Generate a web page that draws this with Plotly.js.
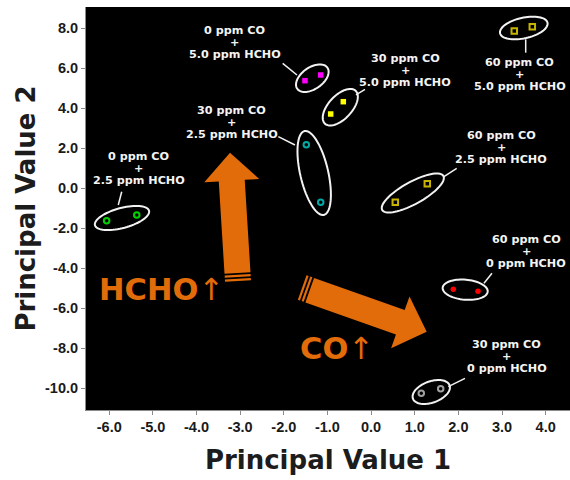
<!DOCTYPE html>
<html><head><meta charset="utf-8">
<script src="https://cdn.plot.ly/plotly-3.0.1.min.js"></script>
<style>html,body{margin:0;padding:0;background:#fff}#chart{width:570px;height:480px}</style>
</head><body><div id="chart"></div>
<script>
// ---------- data ----------
const groups = ["0 ppm CO + 2.5 ppm HCHO","0 ppm CO + 5.0 ppm HCHO","30 ppm CO + 5.0 ppm HCHO","30 ppm CO + 2.5 ppm HCHO","60 ppm CO + 2.5 ppm HCHO","60 ppm CO + 5.0 ppm HCHO","60 ppm CO + 0 ppm HCHO","30 ppm CO + 0 ppm HCHO"];
const labelLines = [["0 ppm CO","+","2.5 ppm HCHO"],["0 ppm CO","+","5.0 ppm HCHO"],["30 ppm CO","+","5.0 ppm HCHO"],["30 ppm CO","+","2.5 ppm HCHO"],["60 ppm CO","+","2.5 ppm HCHO"],["60 ppm CO","+","5.0 ppm HCHO"],["60 ppm CO","+","0 ppm HCHO"],["30 ppm CO","+","0 ppm HCHO"]];
const pc1 = [[-6.06,-5.37],[-1.515,-1.155],[-0.637,-0.926],[-1.485,-1.155],[1.288,0.555],[3.281,3.694],[1.884,2.45],[1.15,1.595]];
const pc2 = [[-1.62,-1.335],[5.38,5.665],[4.33,3.715],[2.18,-0.70],[0.23,-0.70],[7.865,8.08],[-5.05,-5.15],[-10.25,-10.02]];
const xTickVals = [-6,-5,-4,-3,-2,-1,0,1,2,3,4];
const xTickText = ["-6.0","-5.0","-4.0","-3.0","-2.0","-1.0","0.0","1.0","2.0","3.0","4.0"];
const yTickVals = [-10,-8,-6,-4,-2,0,2,4,6,8];
const yTickText = ["-10.0","-8.0","-6.0","-4.0","-2.0","0.0","2.0","4.0","6.0","8.0"];

// ---------- styling / layout geometry ----------
const markerSymbols = ["circle-open","square","square","circle-open","square-open","square-open","circle","circle-open"];
const markerColors = ["#00d000","#ff00ff","#ffff00","#00a8a8","#c8b400","#c8b400","#ff0000","#a0a0a0"];
const labelPos = [[-5.33,1.01],[-3.13,7.30],[0.78,5.88],[-3.19,3.31],[2.98,2.06],[3.41,5.71],[3.55,-3.17],[3.11,-8.43]];
const ellipses = [[-5.708,-1.485,28,10,-15],[-1.347,5.505,18.4,10.8,-35],[-0.706,4.055,22.5,11.7,-47],[-1.304,0.765,43,14,77],[0.956,-0.235,35,11,-29],[3.499,8.015,24.3,10.3,-12.5],[2.156,-5.07,22.6,10,5],[1.379,-10.185,19.5,10.6,-20]];
const leaders = [[-5.793,-0.835,-5.715,-0.17],[-2.026,6.25,-1.698,5.665],[-0.14,4.95,-0.346,4.67],[-2.126,2.58,-1.744,2.165],[1.962,1.0,1.67,0.58],[3.543,7.45,3.543,6.78],[2.77,-4.25,2.587,-4.75],[2.152,-9.5,1.769,-9.92]];
const bigArrows = [{tail:[-3.05,-4.635],tip:[-3.233,1.78]},{tail:[-1.579,-4.96],tip:[1.274,-7.17]}];

const W=570,H=480,ML=86,MR=0,MT=7,MB=70;
const XR=[-6.533,4.558], YR=[-11.085,9.065];
const SX=(W-ML-MR)/(XR[1]-XR[0]), SY=(H-MT-MB)/(YR[1]-YR[0]);
const ORANGE="#E36C0A";

const traces = groups.map((g,i)=>({
  type:"scatter", mode:"markers", name:g, x:pc1[i], y:pc2[i],
  marker:{symbol:markerSymbols[i], color:markerColors[i], size:5.5,
    line:{color:markerColors[i], width: markerSymbols[i].includes("open")?2:0}},
  showlegend:false, hoverinfo:"x+y+name"
}));

const shapes=[];
ellipses.forEach(e=>{
  const [cx,cy,a,b,ang]=e, phi=ang*Math.PI/180; let d="";
  for(let k=0;k<=72;k++){
    const th=2*Math.PI*k/72;
    const dx=a*Math.cos(th)*Math.cos(phi)-b*Math.sin(th)*Math.sin(phi);
    const dy=a*Math.cos(th)*Math.sin(phi)+b*Math.sin(th)*Math.cos(phi);
    d+=(k?"L":"M")+(cx+dx/SX).toFixed(4)+","+(cy-dy/SY).toFixed(4);
  }
  shapes.push({type:"path",xref:"x",yref:"y",path:d+"Z",line:{color:"#f2f2f2",width:2}});
});
leaders.forEach(l=>shapes.push({type:"line",xref:"x",yref:"y",x0:l[0],y0:l[1],x1:l[2],y1:l[3],line:{color:"#f2f2f2",width:1.5}}));
function poly(pts){return pts.map((q,k)=>(k?"L":"M")+(q[0]/SX).toFixed(4)+","+(-q[1]/SY).toFixed(4)).join("")+"Z";}
bigArrows.forEach(A=>{
  const t=[A.tail[0]*SX,-A.tail[1]*SY], p=[A.tip[0]*SX,-A.tip[1]*SY];
  const dx=p[0]-t[0], dy=p[1]-t[1], L=Math.hypot(dx,dy);
  const u=[dx/L,dy/L], n=[-u[1],u[0]];
  const pt=(s,w)=>[t[0]+u[0]*s+n[0]*w, t[1]+u[1]*s+n[1]*w];
  const hw=13, HW=27.5, HL=28;
  const parts=[
    [pt(8,-hw),pt(L-HL,-hw),pt(L-HL,-HW),pt(L,0),pt(L-HL,HW),pt(L-HL,hw),pt(8,hw)],
    [pt(0,-hw),pt(2.2,-hw),pt(2.2,hw),pt(0,hw)],
    [pt(4,-hw),pt(6.2,-hw),pt(6.2,hw),pt(4,hw)]
  ];
  parts.forEach(P=>shapes.push({type:"path",xref:"x",yref:"y",path:poly(P),fillcolor:ORANGE,line:{width:0}}));
});

const annotations=[];
labelLines.forEach((ls,i)=>{
  ls.forEach((s,j)=>annotations.push({x:labelPos[i][0],y:labelPos[i][1],xref:"x",yref:"y",text:s,showarrow:false,
    yshift:12-12*j, xanchor:"center", yanchor:"middle",
    font:{family:"DejaVu Sans, sans-serif",size:11.2,color:"#f4f4f4",weight:"bold"}}));
});
annotations.push({x:-6.29,y:-5.06,xref:"x",yref:"y",text:"<b>HCHO</b>↑",showarrow:false,xanchor:"left",yanchor:"middle",
  font:{family:"DejaVu Sans, sans-serif",size:30.5,color:ORANGE}});
annotations.push({x:-1.668,y:-7.985,xref:"x",yref:"y",text:"<b>CO</b>↑",showarrow:false,xanchor:"left",yanchor:"middle",
  font:{family:"DejaVu Sans, sans-serif",size:30.5,color:ORANGE}});

const tickFont={family:"Liberation Sans Narrow, Arial Narrow, Liberation Sans, Arial, sans-serif",size:14.5,color:"#1a1a1a",weight:"bold"};
const titleFont={family:"DejaVu Sans, sans-serif",size:26,color:"#1c1c1c",weight:"bold"};
const layout={
  width:W,height:H,margin:{l:ML,r:MR,t:MT,b:MB},
  paper_bgcolor:"#ffffff",plot_bgcolor:"#000000",showlegend:false,
  xaxis:{range:XR,tickvals:xTickVals,ticktext:xTickText,showgrid:false,zeroline:false,showline:true,linecolor:"#8a8a8a",linewidth:1,
    ticks:"outside",ticklen:4,tickcolor:"#8a8a8a",tickfont:tickFont,
    title:{text:"Principal Value 1",font:titleFont,standoff:16}},
  yaxis:{range:YR,tickvals:yTickVals,ticktext:yTickText,showgrid:false,zeroline:false,showline:true,linecolor:"#8a8a8a",linewidth:1,
    ticks:"outside",ticklen:4,tickcolor:"#8a8a8a",tickfont:tickFont,
    title:{text:"Principal Value 2",font:titleFont,standoff:1}},
  shapes:shapes, annotations:annotations
};
Plotly.newPlot("chart",traces,layout,{displayModeBar:false,staticPlot:true});
</script></body></html>
